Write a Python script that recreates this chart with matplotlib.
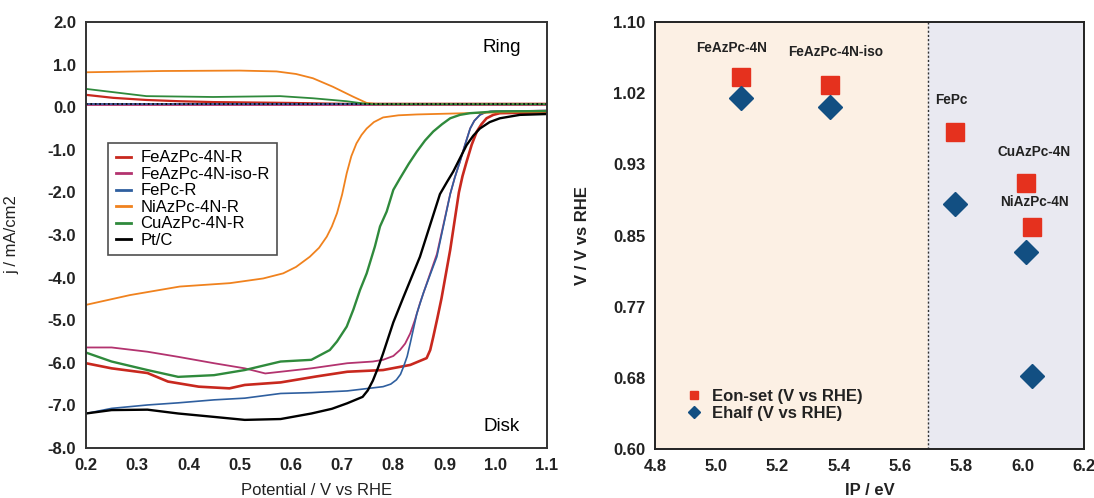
import matplotlib
matplotlib.use("Agg")
import matplotlib.pyplot as plt
from matplotlib.ticker import FormatStrFormatter, FixedLocator

plt.rcParams["font.family"] = ["Liberation Sans", "DejaVu Sans"]
plt.rcParams["axes.unicode_minus"] = False

# ---------------- RRDE data (potential V vs RHE, current density mA/cm2) ----------------
# Disk currents
fe4n_disk_v = [0.20, 0.25, 0.32, 0.36, 0.42, 0.48, 0.51, 0.58, 0.65, 0.71, 0.78, 0.833,
               0.865, 0.872, 0.878, 0.886, 0.894, 0.911, 0.928, 0.935, 0.943, 0.953, 0.963,
               0.972, 0.982, 0.995, 1.008, 1.10]
fe4n_disk_j = [-6.01, -6.13, -6.24, -6.44, -6.56, -6.60, -6.52, -6.46, -6.32, -6.21, -6.17, -6.05,
               -5.89, -5.70, -5.39, -4.95, -4.49, -3.35, -2.00, -1.62, -1.28, -0.88, -0.57,
               -0.40, -0.26, -0.18, -0.14, -0.12]

fe4niso_disk_v = [0.20, 0.25, 0.32, 0.38, 0.45, 0.51, 0.55, 0.58, 0.64, 0.71, 0.76, 0.78,
                  0.80, 0.813, 0.823, 0.833, 0.842, 0.852, 0.872, 0.885, 0.911, 0.92, 0.930,
                  0.94, 0.950, 0.958, 0.969, 0.98, 0.99, 1.10]
fe4niso_disk_j = [-5.64, -5.64, -5.74, -5.86, -6.01, -6.13, -6.25, -6.21, -6.13, -6.01, -5.97, -5.93,
                  -5.84, -5.70, -5.55, -5.31, -5.00, -4.60, -3.90, -3.45, -2.04, -1.65, -1.28,
                  -0.88, -0.50, -0.32, -0.18, -0.12, -0.10, -0.08]

fepc_disk_v = [0.20, 0.25, 0.32, 0.38, 0.45, 0.51, 0.58, 0.64, 0.71, 0.78, 0.795, 0.806,
               0.814, 0.82, 0.827, 0.833, 0.846, 0.859, 0.885, 0.911, 0.92, 0.930, 0.94,
               0.950, 0.958, 0.969, 0.98, 0.99, 1.10]
fepc_disk_j = [-7.19, -7.07, -6.99, -6.94, -6.87, -6.83, -6.72, -6.70, -6.66, -6.56, -6.50, -6.40,
               -6.27, -6.09, -5.85, -5.54, -4.84, -4.35, -3.51, -2.04, -1.65, -1.28, -0.88,
               -0.50, -0.32, -0.18, -0.12, -0.10, -0.08]

ni4n_disk_v = [0.20, 0.286, 0.383, 0.481, 0.546, 0.585, 0.61, 0.637, 0.655, 0.67, 0.68,
               0.69, 0.70, 0.709, 0.718, 0.728, 0.738, 0.748, 0.762, 0.78, 0.81, 0.846,
               0.975, 1.10]
ni4n_disk_j = [-4.64, -4.41, -4.21, -4.13, -4.02, -3.90, -3.75, -3.51, -3.30, -3.04, -2.80,
               -2.49, -2.05, -1.55, -1.15, -0.85, -0.65, -0.50, -0.35, -0.24, -0.19, -0.17,
               -0.13, -0.10]

cu4n_disk_v = [0.20, 0.25, 0.32, 0.38, 0.45, 0.51, 0.58, 0.64, 0.676, 0.69, 0.709, 0.722,
               0.735, 0.748, 0.764, 0.774, 0.787, 0.80, 0.813, 0.83, 0.846, 0.862, 0.878,
               0.895, 0.911, 0.93, 0.95, 1.00, 1.10]
cu4n_disk_j = [-5.76, -5.97, -6.17, -6.33, -6.29, -6.17, -5.97, -5.93, -5.70, -5.50, -5.15, -4.75,
               -4.29, -3.90, -3.27, -2.80, -2.45, -1.94, -1.67, -1.33, -1.04, -0.78, -0.57,
               -0.40, -0.26, -0.18, -0.14, -0.10, -0.09]

ptc_disk_v = [0.20, 0.25, 0.32, 0.38, 0.45, 0.51, 0.58, 0.64, 0.68, 0.71, 0.74, 0.75,
              0.76, 0.77, 0.78, 0.80, 0.82, 0.852, 0.891, 0.905, 0.917, 0.93, 0.943, 0.956,
              0.969, 0.988, 1.008, 1.047, 1.10]
ptc_disk_j = [-7.19, -7.11, -7.10, -7.19, -7.27, -7.34, -7.32, -7.19, -7.08, -6.95, -6.80, -6.65,
              -6.42, -6.12, -5.78, -5.05, -4.45, -3.51, -2.04, -1.75, -1.51, -1.20, -0.89, -0.67,
              -0.50, -0.35, -0.26, -0.18, -0.16]

# Ring currents
fe4n_ring_v = [0.20, 0.253, 0.318, 0.383, 0.45, 0.60, 0.70, 1.10]
fe4n_ring_j = [0.29, 0.22, 0.17, 0.14, 0.12, 0.10, 0.08, 0.08]

fe4niso_ring_v = [0.20, 1.10]
fe4niso_ring_j = [0.07, 0.07]

fepc_ring_v = [0.20, 1.10]
fepc_ring_j = [0.07, 0.07]

ni4n_ring_v = [0.20, 0.35, 0.50, 0.572, 0.61, 0.643, 0.682, 0.721, 0.748, 0.77, 1.10]
ni4n_ring_j = [0.82, 0.85, 0.86, 0.84, 0.78, 0.68, 0.48, 0.25, 0.10, 0.07, 0.07]

cu4n_ring_v = [0.20, 0.318, 0.448, 0.579, 0.643, 0.709, 0.74, 0.76, 1.10]
cu4n_ring_j = [0.43, 0.26, 0.24, 0.26, 0.21, 0.14, 0.09, 0.07, 0.07]

ptc_ring_v = [0.20, 1.10]
ptc_ring_j = [0.07, 0.07]

# ---------------- Onset / half-wave potentials vs ionisation potential ----------------
catalysts = ["FeAzPc-4N", "FeAzPc-4N-iso", "FePc", "CuAzPc-4N", "NiAzPc-4N"]
ip_ev = [5.08, 5.37, 5.78, 6.01, 6.03]
e_onset = [1.036, 1.026, 0.971, 0.911, 0.860]
e_half = [1.011, 1.001, 0.887, 0.831, 0.685]
ip_boundary = 5.69

# ---------------- Figure ----------------
fig = plt.figure(figsize=(10.94, 4.98), dpi=100)
ax1 = fig.add_axes([0.0786, 0.1004, 0.4214, 0.8554])
ax2 = fig.add_axes([0.5987, 0.0984, 0.3921, 0.8574])

c_fe4n = "#c8281e"
c_iso = "#b3336f"
c_fepc = "#2f5f9f"
c_ni = "#f0821e"
c_cu = "#2f8a3c"
c_pt = "#000000"

disk_sets = [
    (fe4n_disk_v, fe4n_disk_j, c_fe4n, 1.9, "FeAzPc-4N-R"),
    (fe4niso_disk_v, fe4niso_disk_j, c_iso, 1.3, "FeAzPc-4N-iso-R"),
    (fepc_disk_v, fepc_disk_j, c_fepc, 1.2, "FePc-R"),
    (ni4n_disk_v, ni4n_disk_j, c_ni, 1.3, "NiAzPc-4N-R"),
    (cu4n_disk_v, cu4n_disk_j, c_cu, 1.7, "CuAzPc-4N-R"),
    (ptc_disk_v, ptc_disk_j, c_pt, 1.7, "Pt/C"),
]
ring_sets = [
    (fe4n_ring_v, fe4n_ring_j, c_fe4n, 1.6, "-"),
    (fe4niso_ring_v, fe4niso_ring_j, c_iso, 2.0, "-"),
    (fepc_ring_v, fepc_ring_j, c_fepc, 1.2, "-"),
    (ni4n_ring_v, ni4n_ring_j, c_ni, 1.3, "-"),
    (cu4n_ring_v, cu4n_ring_j, c_cu, 1.3, "-"),
    (ptc_ring_v, ptc_ring_j, c_pt, 1.2, ":"),
]

for v, j, c, lw, ls in ring_sets:
    ax1.plot(v, j, color=c, lw=lw, ls=ls)
for v, j, c, lw, lab in disk_sets:
    ax1.plot(v, j, color=c, lw=lw, label=lab)

ax1.set_xlim(0.2, 1.1)
ax1.set_ylim(-8.0, 2.0)
ax1.xaxis.set_major_locator(FixedLocator([0.2, 0.3, 0.4, 0.5, 0.6, 0.7, 0.8, 0.9, 1.0, 1.1]))
ax1.yaxis.set_major_locator(FixedLocator([-8, -7, -6, -5, -4, -3, -2, -1, 0, 1, 2]))
ax1.xaxis.set_major_formatter(FormatStrFormatter("%.1f"))
ax1.yaxis.set_major_formatter(FormatStrFormatter("%.1f"))
ax1.tick_params(length=0, pad=7, labelsize=12, colors="#222222")
for lbl in ax1.get_xticklabels() + ax1.get_yticklabels():
    lbl.set_fontweight("bold")
for sp in ax1.spines.values():
    sp.set_linewidth(1.4)
    sp.set_color("#333333")
ax1.set_xlabel("Potential / V vs RHE", fontsize=12, color="#222222")
ax1.set_ylabel("j / mA/cm2", fontsize=12, color="#222222")
ax1.xaxis.set_label_coords(0.5, -0.082)
ax1.yaxis.set_label_coords(-0.145, 0.5)
ax1.text(1.012, 1.41, "Ring", fontsize=13.5, ha="center", va="center")
ax1.text(1.012, -7.5, "Disk", fontsize=13.5, ha="center", va="center")

leg1 = ax1.legend(loc="upper left", bbox_to_anchor=(0.048, 0.716), fontsize=12,
                  frameon=True, fancybox=False, handlelength=0.9, handletextpad=0.6,
                  labelspacing=0.09, borderpad=0.45, borderaxespad=0)
leg1.get_frame().set_edgecolor("#222222")
leg1.get_frame().set_linewidth(1.2)
for line in leg1.get_lines():
    line.set_linewidth(2.0)

# Right panel
ax2.axvspan(4.8, ip_boundary, color="#fcf0e4", zorder=0)
ax2.axvspan(ip_boundary, 6.2, color="#e9e9f1", zorder=0)
ax2.axvline(ip_boundary, color="#333333", lw=1.0, ls=(0, (1.5, 1.5)), zorder=1)

ax2.plot(ip_ev, e_onset, ls="none", marker="s", ms=12.5, color="#e5311e",
         label="Eon-set (V vs RHE)", zorder=3)
ax2.plot(ip_ev, e_half, ls="none", marker="D", ms=12.5, color="#124f82",
         label="Ehalf (V vs RHE)", zorder=3)

label_pos = [(5.05, 1.0696), (5.39, 1.065), (5.766, 1.0087), (6.037, 0.948), (6.037, 0.889)]
for name, (x, y) in zip(catalysts, label_pos):
    ax2.text(x, y, name, fontsize=9.8, fontweight="bold", ha="center", va="center",
             color="#222222")

ax2.set_xlim(4.8, 6.2)
ax2.set_ylim(0.6, 1.1)
ax2.xaxis.set_major_locator(FixedLocator([4.8, 5.0, 5.2, 5.4, 5.6, 5.8, 6.0, 6.2]))
ax2.yaxis.set_major_locator(FixedLocator([0.6 + k * 0.5 / 6 for k in range(7)]))
ax2.xaxis.set_major_formatter(FormatStrFormatter("%.1f"))
ax2.yaxis.set_major_formatter(FormatStrFormatter("%.2f"))
ax2.tick_params(length=0, pad=7, labelsize=12, colors="#222222")
for lbl in ax2.get_xticklabels() + ax2.get_yticklabels():
    lbl.set_fontweight("bold")
for sp in ax2.spines.values():
    sp.set_linewidth(1.4)
    sp.set_color("#222222")
ax2.set_xlabel("IP / eV", fontsize=12, fontweight="bold", color="#222222")
ax2.set_ylabel("V / V vs RHE", fontsize=12, fontweight="bold", color="#222222")
ax2.xaxis.set_label_coords(0.5, -0.08)
ax2.yaxis.set_label_coords(-0.152, 0.5)

leg2 = ax2.legend(loc="lower left", bbox_to_anchor=(0.055, 0.051), fontsize=12,
                  frameon=False, markerscale=0.5, handlelength=1.0, handletextpad=0.6,
                  labelspacing=0.1, borderaxespad=0)
for t in leg2.get_texts():
    t.set_fontweight("bold")
    t.set_color("#222222")

fig.savefig("out.png", dpi=100)
